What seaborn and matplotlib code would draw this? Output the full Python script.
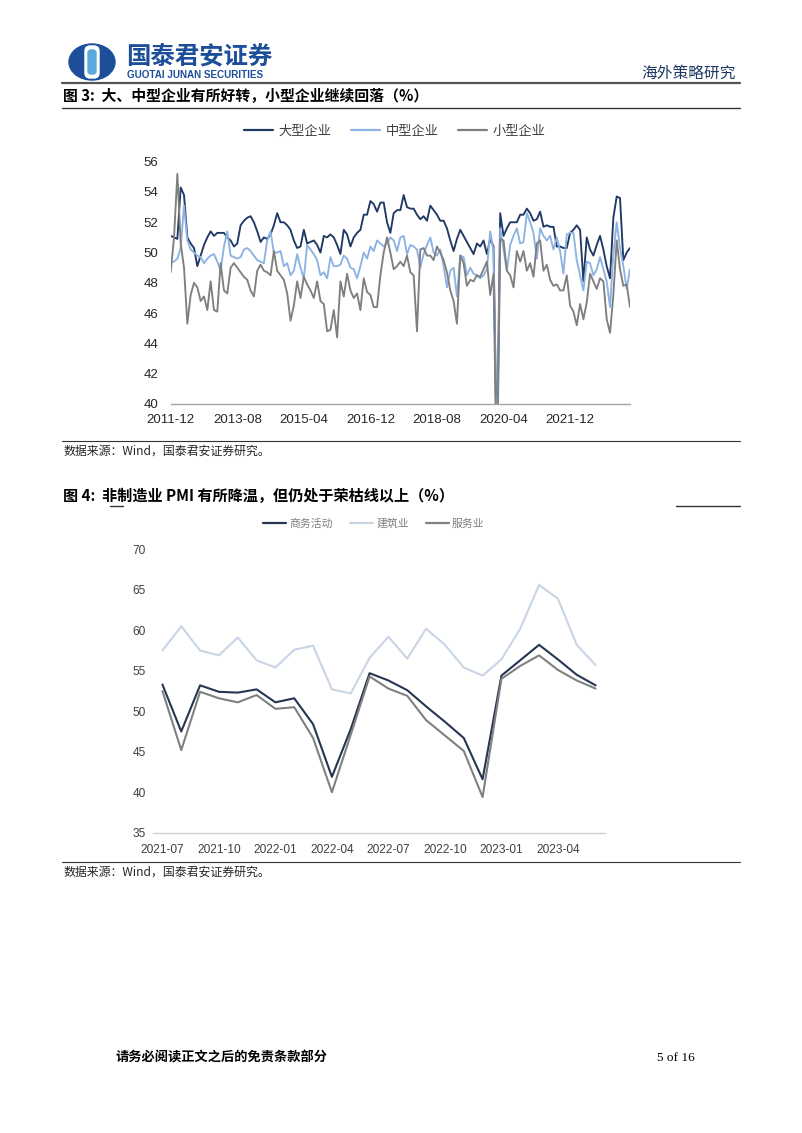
import numpy as np
import pandas as pd
import seaborn as sns
import matplotlib.pyplot as plt
from matplotlib.lines import Line2D
from matplotlib.patches import Ellipse, FancyBboxPatch

W, H = 802, 1133

# figure 3: PMI by enterprise size, monthly 2011-12 .. 2023-06
size_start = "2011-12"
size_ticks = ["2011-12", "2013-08", "2015-04", "2016-12", "2018-08", "2020-04", "2021-12"]
large = [
    51.1, 51.0, 50.9, 54.3, 53.8, 51.0, 50.6, 50.3, 49.1, 49.8,
    50.5, 51.0, 51.4, 51.1, 51.3, 51.3, 51.3, 51.0, 50.8, 50.4,
    50.6, 51.8, 52.1, 52.3, 52.4, 52.0, 51.4, 50.7, 51.0, 50.9,
    51.2, 51.8, 52.6, 52.0, 52.0, 51.8, 51.5, 50.8, 50.3, 50.4,
    51.5, 50.6, 50.7, 50.8, 50.5, 50.0, 51.1, 51.0, 51.2, 51.0,
    50.5, 49.9, 51.5, 51.2, 50.4, 51.0, 51.3, 51.5, 52.5, 52.5,
    53.4, 53.2, 52.7, 53.3, 53.3, 52.0, 51.3, 52.6, 52.8, 52.8,
    53.8, 53.0, 52.9, 52.9, 52.5, 52.2, 52.4, 52.1, 53.1, 52.8,
    52.5, 52.1, 52.1, 51.6, 50.8, 50.1, 50.9, 51.5, 51.1, 50.7,
    50.3, 49.9, 50.6, 50.4, 50.8, 49.9, 50.9, 50.4, 36.6, 52.6,
    51.1, 51.6, 52.0, 52.0, 52.0, 52.5, 52.5, 52.9, 52.6, 52.1,
    52.2, 52.7, 51.7, 51.8, 51.7, 51.7, 50.4, 50.4, 50.3, 50.3,
    51.3, 51.5, 51.8, 51.5, 48.1, 51.0, 50.2, 49.8, 50.5, 51.1,
    50.2, 49.1, 48.3, 52.3, 53.7, 53.6, 49.5, 50.0, 50.3,
]
medium = [
    49.4, 49.4, 49.6, 50.3, 53.1, 50.8, 50.2, 50.0, 49.8, 49.7,
    49.3, 49.6, 49.8, 49.9, 49.4, 48.8, 50.4, 51.4, 49.8, 49.7,
    49.6, 49.7, 50.2, 50.3, 50.1, 49.8, 49.5, 49.4, 49.3, 50.8,
    51.4, 50.0, 50.0, 50.1, 49.1, 49.3, 48.5, 48.8, 49.9, 49.0,
    48.3, 50.5, 50.2, 49.9, 49.5, 48.5, 48.7, 48.3, 49.7, 49.1,
    49.1, 49.2, 49.8, 49.6, 49.0, 48.9, 48.3, 49.1, 50.0, 49.6,
    50.4, 50.1, 50.8, 50.6, 50.4, 50.6, 51.0, 50.8, 50.1, 51.0,
    51.1, 49.9, 50.5, 50.4, 50.2, 49.0, 49.9, 50.5, 51.0, 50.0,
    49.8, 50.2, 49.1, 47.7, 48.8, 49.0, 47.1, 49.8, 49.7, 48.5,
    49.0, 48.6, 48.5, 48.3, 48.5, 48.9, 51.4, 50.1, 35.5, 51.6,
    50.2, 48.8, 50.5, 51.1, 51.6, 50.6, 50.7, 52.6, 52.0, 51.3,
    49.6, 51.6, 51.1, 50.8, 51.1, 50.2, 51.0, 50.1, 48.6, 51.2,
    51.3, 51.3, 49.5, 48.5, 47.5, 49.4, 49.3, 48.5, 48.9, 49.7,
    48.9, 48.1, 46.4, 49.9, 52.0, 50.3, 49.1, 47.6, 48.9,
]
small = [
    48.7, 51.0, 55.2, 50.6, 49.0, 45.3, 47.2, 48.0, 47.7, 46.8,
    47.1, 46.2, 48.1, 46.2, 46.1, 49.3, 47.5, 47.3, 49.0, 49.3,
    49.0, 48.7, 48.4, 48.2, 47.5, 47.1, 48.8, 49.2, 48.8, 48.7,
    48.5, 50.1, 48.8, 48.5, 48.2, 47.3, 45.5, 46.5, 48.1, 47.0,
    48.4, 47.9, 47.5, 47.0, 48.1, 46.8, 46.6, 44.8, 44.9, 46.2,
    44.4, 48.1, 47.1, 48.6, 47.5, 47.0, 47.3, 46.2, 48.3, 47.4,
    47.2, 46.4, 46.4, 48.5, 50.0, 51.0, 50.0, 48.9, 49.1, 49.4,
    49.1, 49.8, 48.7, 48.5, 44.8, 50.2, 50.3, 49.8, 49.8, 49.5,
    50.4, 50.0, 49.5, 48.7, 47.5, 46.8, 45.3, 49.8, 49.3, 47.8,
    48.2, 48.1, 48.5, 48.4, 48.9, 49.4, 47.2, 48.6, 34.1, 50.9,
    50.8, 48.8, 48.5, 47.7, 50.1, 49.4, 50.1, 48.8, 49.3, 48.4,
    50.6, 50.8, 48.8, 49.2, 48.2, 47.8, 47.9, 47.5, 47.5, 48.5,
    46.5, 46.1, 45.2, 46.6, 45.6, 46.7, 48.6, 48.1, 47.6, 48.3,
    48.1, 45.6, 44.7, 47.2, 50.8, 48.9, 47.8, 47.9, 46.4,
]
size_names = ["大型企业", "中型企业", "小型企业"]
size_colors = ["#203864", "#8db3e2", "#7f7f7f"]

# figure 4: non-manufacturing PMI, 2021-07 .. 2023-06
nm_start = "2021-07"
nm_ticks = ["2021-07", "2021-10", "2022-01", "2022-04", "2022-07", "2022-10", "2023-01", "2023-04"]
business = [53.3, 47.5, 53.2, 52.4, 52.3, 52.7, 51.1, 51.6, 48.4, 41.9, 47.8, 54.7,
            53.8, 52.6, 50.6, 48.7, 46.7, 41.6, 54.4, 56.3, 58.2, 56.4, 54.5, 53.2]
construction = [57.5, 60.5, 57.5, 56.9, 59.1, 56.3, 55.4, 57.6, 58.1, 52.7, 52.2, 56.6,
                59.2, 56.5, 60.2, 58.2, 55.4, 54.4, 56.4, 60.2, 65.6, 63.9, 58.2, 55.7]
services = [52.5, 45.2, 52.4, 51.6, 51.1, 52.0, 50.3, 50.5, 46.7, 40.0, 47.1, 54.3,
            52.8, 51.9, 48.9, 47.0, 45.1, 39.4, 54.0, 55.6, 56.9, 55.1, 53.8, 52.8]
nm_names = ["商务活动", "建筑业", "服务业"]
nm_colors = ["#263550", "#c9d5e5", "#808080"]

sns.set_style("white")
plt.rcParams["font.family"] = ["Noto Sans CJK SC", "DejaVu Sans"]
NUM_FONT = ["Liberation Sans", "DejaVu Sans"]


def fx(x):
    return x / W


def fy(y):
    return 1 - y / H


def rect(x0, y0, x1, y1):
    return [fx(x0), fy(y1), (x1 - x0) / W, (y1 - y0) / H]


def hline(fig, x0, x1, y, color="#404040", lw=1.0):
    fig.add_artist(Line2D([fx(x0), fx(x1)], [fy(y), fy(y)], color=color, lw=lw))


fig = plt.figure(figsize=(W / 100, H / 100), dpi=100)
fig.patch.set_facecolor("white")

# ---- page header
logo = fig.add_axes(rect(68, 43, 116, 81))
logo.set_xlim(0, 48)
logo.set_ylim(0, 38)
logo.axis("off")
logo.add_patch(Ellipse((24, 19), 46, 36, color="#1c4e9a"))
logo.add_patch(FancyBboxPatch((17, 3), 14, 32, boxstyle="round,pad=0,rounding_size=5", color="white"))
logo.add_patch(FancyBboxPatch((20, 7), 8, 24, boxstyle="round,pad=0,rounding_size=3", color="#5ba8dc"))

fig.text(fx(126), fy(56), "国泰君安证券", fontsize=17.6, fontweight="bold", color="#1c4e9a", va="center")
fig.text(fx(127), fy(75.5), "GUOTAI JUNAN SECURITIES", fontsize=7.1, fontweight="bold",
         color="#1c4e9a", va="center", family=NUM_FONT)
fig.text(fx(736), fy(73), "海外策略研究", fontsize=11.3, color="#1f3864", ha="right", va="center")
hline(fig, 62, 740, 83, color="#555555", lw=1.6)

# ---- figure 3
fig.text(fx(63), fy(96), "图 3:  大、中型企业有所好转，小型企业继续回落（%）", fontsize=10.7,
         fontweight="bold", color="black", va="center")
hline(fig, 62, 740, 108, color="#333333", lw=1.0)

n = len(large)
size_df = pd.DataFrame({"idx": np.arange(n), size_names[0]: large,
                        size_names[1]: medium, size_names[2]: small})
size_long = size_df.melt(id_vars="idx", var_name="series", value_name="value")

ax1 = fig.add_axes(rect(170.7, 161.7, 630, 404))
sns.lineplot(data=size_long, x="idx", y="value", hue="series", hue_order=size_names,
             palette=size_colors, linewidth=1.35, ax=ax1, legend=False)
ax1.set_xlim(0, n - 1)
ax1.set_ylim(40, 56)
ax1.set_yticks(range(40, 57, 2))
months1 = pd.period_range(size_start, periods=n, freq="M").strftime("%Y-%m")
tick_pos1 = [list(months1).index(t) for t in size_ticks]
ax1.set_xticks(tick_pos1)
ax1.set_xticklabels(size_ticks)
ax1.set_xlabel("")
ax1.set_ylabel("")
for s in ["top", "right", "left"]:
    ax1.spines[s].set_visible(False)
ax1.spines["bottom"].set_color("#a6a6a6")
ax1.spines["bottom"].set_linewidth(1.0)
ax1.tick_params(axis="x", length=3, color="#a6a6a6", pad=4, labelsize=9.5, labelcolor="#262626")
ax1.tick_params(axis="y", length=0, pad=9, labelsize=9.5, labelcolor="#262626")
for lab in ax1.get_xticklabels() + ax1.get_yticklabels():
    lab.set_family(NUM_FONT)
ax1.patch.set_alpha(0)

h1 = [Line2D([], [], color=c, lw=1.6) for c in size_colors]
leg1 = fig.legend(h1, size_names, loc="center", bbox_to_anchor=(fx(395), fy(131)), ncol=3,
                  frameon=False, fontsize=9.5, handlelength=2.2, handletextpad=0.4,
                  columnspacing=1.5)
for t in leg1.get_texts():
    t.set_color("#404040")

hline(fig, 62, 740, 441, color="#333333", lw=0.8)
fig.text(fx(63), fy(451), "数据来源：Wind，国泰君安证券研究。", fontsize=8.6, color="#262626", va="center")

# ---- figure 4
fig.text(fx(63), fy(496), "图 4:  非制造业 PMI 有所降温，但仍处于荣枯线以上（%）", fontsize=10.9,
         fontweight="bold", color="black", va="center")
hline(fig, 110, 123, 506, color="#333333", lw=1.0)
hline(fig, 676, 740, 506, color="#333333", lw=1.0)

m = len(business)
nm_df = pd.DataFrame({"idx": np.arange(m), nm_names[0]: business,
                      nm_names[1]: construction, nm_names[2]: services})
nm_long = nm_df.melt(id_vars="idx", var_name="series", value_name="value")

ax2 = fig.add_axes(rect(153, 549.3, 605, 832.7))
sns.lineplot(data=nm_long, x="idx", y="value", hue="series", hue_order=nm_names,
             palette=nm_colors, linewidth=1.5, ax=ax2, legend=False)
ax2.set_xlim(-0.5, m - 0.5)
ax2.set_ylim(35, 70)
ax2.set_yticks(range(35, 71, 5))
months2 = pd.period_range(nm_start, periods=m, freq="M").strftime("%Y-%m")
tick_pos2 = [list(months2).index(t) for t in nm_ticks]
ax2.set_xticks(tick_pos2)
ax2.set_xticklabels(nm_ticks)
ax2.set_xticks(np.arange(-0.5, m, 3), minor=True)
ax2.set_xlabel("")
ax2.set_ylabel("")
for s in ["top", "right", "left"]:
    ax2.spines[s].set_visible(False)
ax2.spines["bottom"].set_color("#d0d0d0")
ax2.spines["bottom"].set_linewidth(1.0)
ax2.tick_params(axis="x", which="major", length=0, pad=8, labelsize=8.6, labelcolor="#404040")
ax2.tick_params(axis="x", which="minor", length=4, color="#d0d0d0")
ax2.tick_params(axis="y", length=0, pad=5, labelsize=8.6, labelcolor="#404040")
for lab in ax2.get_xticklabels() + ax2.get_yticklabels():
    lab.set_family(NUM_FONT)
ax2.patch.set_alpha(0)

h2 = [Line2D([], [], color=c, lw=1.6) for c in nm_colors]
leg2 = fig.legend(h2, nm_names, loc="center", bbox_to_anchor=(fx(374), fy(524)), ncol=3,
                  frameon=False, fontsize=7.8, handlelength=2.1, handletextpad=0.3,
                  columnspacing=1.6)
for t in leg2.get_texts():
    t.set_color("#7f7f7f")

hline(fig, 62, 740, 862, color="#333333", lw=0.8)
fig.text(fx(63), fy(872), "数据来源：Wind，国泰君安证券研究。", fontsize=8.6, color="#262626", va="center")

# ---- footer
fig.text(fx(115), fy(1058), "请务必阅读正文之后的免责条款部分", fontsize=9.5, fontweight="bold",
         color="black", va="center")
fig.text(fx(695), fy(1058), "5 of 16", fontsize=9.5, color="black", ha="right", va="center",
         family=["Liberation Serif", "DejaVu Serif"])

fig.savefig("out.png", dpi=100, facecolor="white")
